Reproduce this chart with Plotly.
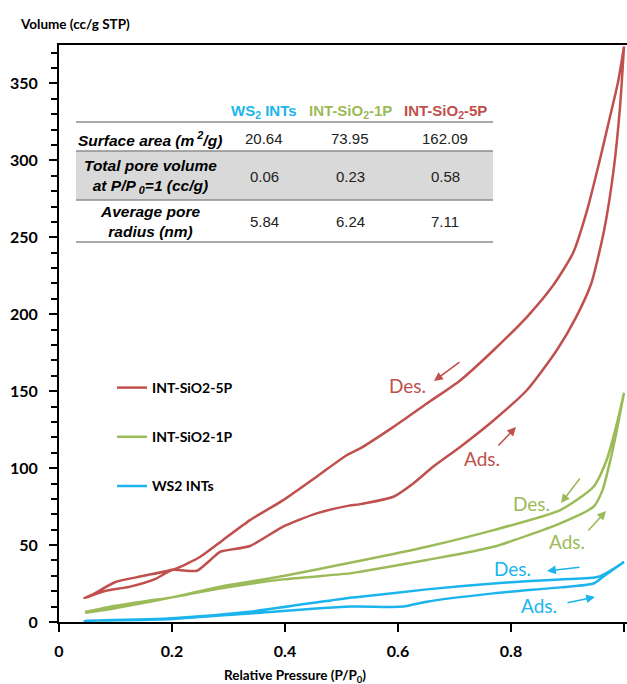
import plotly.graph_objects as go

# ---- isotherm data (relative pressure P/P0, volume cc/g STP) ----
sio2_5p_ads_x = [0.045, 0.08, 0.126, 0.173, 0.2, 0.244, 0.267, 0.285, 0.338, 0.396, 0.456, 0.509,
                 0.533, 0.592, 0.627, 0.662, 0.71, 0.769, 0.828, 0.881, 0.915, 0.942, 0.965,
                 0.982, 0.993, 1.0]
sio2_5p_ads_y = [15.5, 20, 23, 28.4, 33.8, 33.3, 40, 45.6, 49.4, 61.9, 70.6, 75.3,
                 76.6, 81.4, 90, 100.9, 113.8, 131, 150.6, 176.6, 198, 220, 255,
                 295, 335, 374]
sio2_5p_des_x = [0.045, 0.06, 0.1, 0.15, 0.208, 0.25, 0.29, 0.338, 0.397, 0.456, 0.509, 0.533,
                 0.592, 0.651, 0.71, 0.769, 0.83, 0.875, 0.91, 0.935, 0.957, 0.975, 0.99, 1.0]
sio2_5p_des_y = [15.5, 18, 26, 30, 34.8, 42.4, 53.2, 66.2, 79.2, 94.4, 108.4, 112.8,
                 126.8, 142, 157, 176.6, 199, 219, 240, 268, 300, 328, 352, 374]

sio2_1p_ads_x = [0.046, 0.1, 0.161, 0.2, 0.279, 0.397, 0.515, 0.533, 0.651, 0.769, 0.887, 0.946,
                 0.962, 0.975, 0.988, 1.0]
sio2_1p_ads_y = [6, 9, 13.2, 16, 21.5, 27.7, 31.6, 32.7, 40.3, 48.9, 64.1, 74.9,
                 85.7, 104, 126, 149]
sio2_1p_des_x = [0.046, 0.1, 0.161, 0.2, 0.279, 0.397, 0.515, 0.533, 0.651, 0.769, 0.887, 0.946,
                 0.969, 0.981, 0.992, 1.0]
sio2_1p_des_y = [6.5, 10.5, 14, 16, 22.5, 29.9, 38.5, 39.8, 48.9, 59.7, 72.7, 87.9,
                 105, 120, 136, 149]

ws2_ads_x = [0.045, 0.2, 0.338, 0.515, 0.609, 0.651, 0.769, 0.887, 0.946, 0.963, 1.0]
ws2_ads_y = [0.8, 2, 5.6, 10, 10, 13.2, 18.6, 22.5, 25, 29.4, 39]
ws2_des_x = [0.045, 0.2, 0.338, 0.515, 0.533, 0.651, 0.769, 0.887, 0.955, 1.0]
ws2_des_y = [0.8, 2.5, 6.7, 15.8, 16.4, 21.2, 25.1, 27.7, 29.4, 39]

series_names = ["INT-SiO2-5P", "INT-SiO2-1P", "WS2 INTs"]

# ---- summary table ----
table_columns = ["WS<sub>2</sub> INTs", "INT-SiO<sub>2</sub>-1P", "INT-SiO<sub>2</sub>-5P"]
table_rows = ["Surface area (m<sup> 2</sup>/g)",
              "Total pore volume<br>at P/P<sub> 0</sub>=1 (cc/g)",
              "Average pore<br>radius (nm)"]
surface_area = ["20.64", "73.95", "162.09"]
pore_volume = ["0.06", "0.23", "0.58"]
pore_radius = ["5.84", "6.24", "7.11"]

RED, GREEN, BLUE = "#c0504d", "#9bbb59", "#1cb4ec"
series_colors = [RED, GREEN, BLUE]
column_colors = [BLUE, GREEN, RED]

W, H = 627, 684
L, R, T, B = 59, 0, 45, 62
X_MAX, Y_MAX = 1.0053, 375


def px(xp):
    """Pixel column -> paper x."""
    return (xp - L) / (W - L - R)


def py(yp):
    """Pixel row -> paper y."""
    return (H - B - yp) / (H - T - B)


def dx(xp):
    return px(xp) * X_MAX


def dy(yp):
    return py(yp) * Y_MAX


fig = go.Figure()

loops = [
    (sio2_5p_ads_x, sio2_5p_ads_y, sio2_5p_des_x, sio2_5p_des_y),
    (sio2_1p_ads_x, sio2_1p_ads_y, sio2_1p_des_x, sio2_1p_des_y),
    (ws2_ads_x, ws2_ads_y, ws2_des_x, ws2_des_y),
]
for name, color, (ax_, ay_, dx_, dy_) in zip(series_names, series_colors, loops):
    fig.add_trace(go.Scatter(
        x=ax_ + dx_[::-1], y=ay_ + dy_[::-1], mode="lines", name=name,
        legendgroup=name,
        line=dict(color=color, width=2.5, shape="spline", smoothing=0.6),
    ))

shapes = []
annotations = []

# table background band and rules
shapes.append(dict(type="rect", xref="paper", yref="paper", x0=px(76), x1=px(493),
                   y0=py(200), y1=py(151), fillcolor="#d9d9d9", line=dict(width=0), layer="below"))
for yy in [122, 151, 200, 242]:
    shapes.append(dict(type="line", xref="paper", yref="paper", x0=px(76), x1=px(493),
                       y0=py(yy), y1=py(yy), line=dict(color="#8c8c8c", width=1.5)))

TF = "Liberation Sans, Arial, sans-serif"
col_x = [264, 350, 445]
for cx, txt, c in zip(col_x, table_columns, column_colors):
    annotations.append(dict(xref="paper", yref="paper", x=px(cx), y=py(111), text=txt,
                            showarrow=False, font=dict(family=TF, size=15, color=c, weight=700),
                            xanchor="center", yanchor="middle"))
row_y = [139, 177, 222]
for ry, txt in zip(row_y, table_rows):
    annotations.append(dict(xref="paper", yref="paper", x=px(150), y=py(ry), text=f"<i>{txt}</i>",
                            showarrow=False, align="center",
                            font=dict(family=TF, size=15.5, color="#000", weight=700),
                            xanchor="center", yanchor="middle"))
for ry, vals in zip(row_y, [surface_area, pore_volume, pore_radius]):
    for cx, v in zip(col_x, vals):
        annotations.append(dict(xref="paper", yref="paper", x=px(cx), y=py(ry), text=v,
                                showarrow=False, font=dict(family=TF, size=15, color="#222"),
                                xanchor="center", yanchor="middle"))

# Ads./Des. labels with direction arrows
CF = "Lato, sans-serif"
labels = [
    ("Des.", 407, 385, RED, (461, 361), (434, 381)),
    ("Ads.", 482, 458, RED, (497, 447), (516, 427)),
    ("Des.", 531, 503, GREEN, (581, 477), (561, 503)),
    ("Ads.", 567, 541, GREEN, (587, 532), (606, 511)),
    ("Des.", 512, 568, BLUE, (581, 567), (547, 571)),
    ("Ads.", 539, 605, BLUE, (566, 603), (595, 597)),
]
for txt, lx, ly, c, tail, head in labels:
    annotations.append(dict(x=dx(lx), y=dy(ly), text=txt, showarrow=False,
                            font=dict(family=CF, size=19, color=c), xanchor="center", yanchor="middle"))
    annotations.append(dict(x=dx(head[0]), y=dy(head[1]), ax=dx(tail[0]), ay=dy(tail[1]),
                            axref="x", ayref="y", text="", showarrow=True,
                            arrowhead=2, arrowsize=1.1, arrowwidth=1.6, arrowcolor=c))

# axis titles
annotations.append(dict(xref="paper", yref="paper", x=px(18), y=py(24), text="Volume (cc/g STP)",
                        showarrow=False, xanchor="left", yanchor="middle",
                        font=dict(family=CF, size=13.5, color="#000", weight=700)))
annotations.append(dict(xref="paper", yref="paper", x=px(295), y=py(676),
                        text="Relative Pressure (P/P<sub>0</sub>)", showarrow=False,
                        xanchor="center", yanchor="middle",
                        font=dict(family=CF, size=13.5, color="#000", weight=700)))

fig.update_layout(
    width=W, height=H,
    margin=dict(l=L, r=R, t=T, b=B),
    paper_bgcolor="white", plot_bgcolor="white",
    showlegend=True,
    legend=dict(x=px(112), y=py(372), xanchor="left", yanchor="top",
                bgcolor="rgba(0,0,0,0)", tracegroupgap=28, itemwidth=30,
                font=dict(family=CF, size=14, color="#000", weight=700)),
    shapes=shapes, annotations=annotations,
    xaxis=dict(range=[0, X_MAX], tickvals=[0, 0.2, 0.4, 0.6, 0.8, 1.0],
               ticktext=["0", "0.2", "0.4", "0.6", "0.8", "1"],
               showgrid=False, zeroline=False, showline=True, linecolor="#000", linewidth=2,
               mirror=True, ticks="outside", ticklen=8, tickwidth=2, tickcolor="#000",
               ticklabelstandoff=6,
               tickfont=dict(family=CF, size=16, color="#000", weight=700)),
    yaxis=dict(range=[0, Y_MAX], dtick=50, showgrid=False, zeroline=False, showline=True,
               linecolor="#000", linewidth=2, ticks="outside", ticklen=8, tickwidth=2,
               tickcolor="#000", ticklabelstandoff=8,
               minor=dict(dtick=10, ticks="outside", ticklen=6, tickwidth=2, tickcolor="#000"),
               tickfont=dict(family=CF, size=16, color="#000", weight=700)),
)

fig.write_html("out.html")
